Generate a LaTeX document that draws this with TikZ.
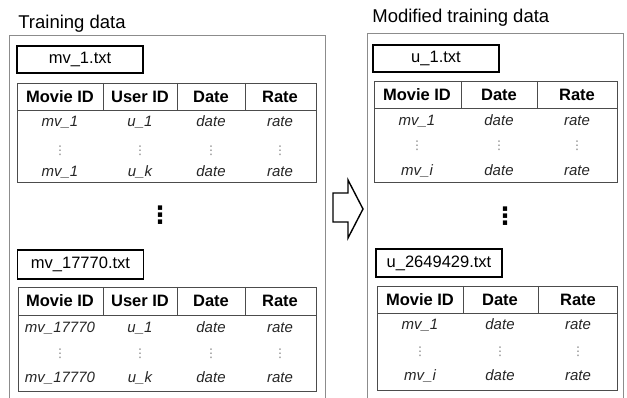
\documentclass[tikz,border=0pt]{standalone}
\usepackage{fontspec}
\setmainfont{Liberation Sans}
\newfontfamily\dotsfont{DejaVu Sans}
\tikzset{every picture/.style={line width=0.75pt}}

\begin{document}
\begin{tikzpicture}[x=1pt,y=1pt,yscale=-1,xscale=1,
	outerline/.style={draw=black!45, line width=0.9pt},
	tableline/.style={draw=black!70, line width=0.8pt},
	filebox/.style={draw, line width=1.3pt, minimum width=126pt, inner sep=0pt, font=\fontsize{16.5}{16.5}\selectfont},
	titletxt/.style={anchor=base west, inner sep=0pt, font=\fontsize{18.5}{18.5}\selectfont},
	headtxt/.style={inner sep=0pt, text height=12pt, text depth=0pt, font=\fontsize{16.5}{16.5}\selectfont\bfseries},
	celltxt/.style={inner sep=0pt, text height=8pt, text depth=0pt, text=black!85, font=\fontsize{15}{15}\selectfont\itshape},
	celldots/.style={inner sep=0pt, text=black!50, font=\dotsfont\fontsize{12}{12}\selectfont},
	bigdots/.style={inner sep=0pt, font=\dotsfont\fontsize{24}{24}\selectfont\bfseries}]
	\useasboundingbox (0,0) rectangle (627,398);

	%Shape: Outer frames
	\draw [outerline] (9,398) -- (9,35) -- (325,35) -- (325,398) ;
	\draw [outerline] (367,398) -- (367,33) -- (623,33) -- (623,398) ;

	% Text Node
	\node [titletxt] (trainTitle) at (18,28.5) {Training data};
	% Text Node
	\node [titletxt] (modTitle) at (372,23) {Modified training data};

	%Shape: Table mv_1 [left top]
	\draw [tableline] (17,83) rectangle (316,182) ;
	\draw [tableline] (17,110) -- (316,110) ;
	\draw [tableline] (103,83) -- (103,110) (177,83) -- (177,110) (245,83) -- (245,110) ;
	%Shape: Table mv_17770 [left bottom]
	\draw [tableline] (18,287) rectangle (316,391) ;
	\draw [tableline] (18,315) -- (316,315) ;
	\draw [tableline] (103,287) -- (103,315) (177,287) -- (177,315) (245,287) -- (245,315) ;
	%Shape: Table u_1 [right top]
	\draw [tableline] (374,81) rectangle (617,182) ;
	\draw [tableline] (374,108) -- (617,108) ;
	\draw [tableline] (461,81) -- (461,108) (537,81) -- (537,108) ;
	%Shape: Table u_2649429 [right bottom]
	\draw [tableline] (377,286) rectangle (617,390) ;
	\draw [tableline] (377,313) -- (617,313) ;
	\draw [tableline] (463,286) -- (463,313) (538,286) -- (538,313) ;

	% File boxes
	\node [filebox, minimum height=27pt] (fileMvOne) at (80,59.5) {mv\_1.txt};
	\node [filebox, minimum height=29pt] (fileMvLast) at (80.5,264.5) {mv\_17770.txt};
	\node [filebox, minimum height=27pt] (fileUOne) at (436,58.5) {u\_1.txt};
	\node [filebox, minimum height=28pt] (fileULast) at (439,263) {u\_2649429.txt};

	% Header texts, left top
	\node [headtxt] (lhMovieA) at (60,96.5) {Movie ID};
	\node [headtxt] (lhUserA) at (140,96.5) {User ID};
	\node [headtxt] (lhDateA) at (211,96.5) {Date};
	\node [headtxt] (lhRateA) at (280,96.5) {Rate};
	% Cell texts, left top
	\node [celltxt] (lcMvA) at (60,123) {mv\_1};
	\node [celltxt] (lcUA) at (140,123) {u\_1};
	\node [celltxt] (lcDateA) at (211,123) {date};
	\node [celltxt] (lcRateA) at (280,123) {rate};
	\node [celldots] (ldMvA) at (60,151) {⋮};
	\node [celldots] (ldUA) at (140,151) {⋮};
	\node [celldots] (ldDateA) at (211,151) {⋮};
	\node [celldots] (ldRateA) at (280,151) {⋮};
	\node [celltxt] (lcMvB) at (60,173) {mv\_1};
	\node [celltxt] (lcUB) at (140,173) {u\_k};
	\node [celltxt] (lcDateB) at (211,173) {date};
	\node [celltxt] (lcRateB) at (280,173) {rate};

	% Header texts, left bottom
	\node [headtxt] (lhMovieB) at (60,301) {Movie ID};
	\node [headtxt] (lhUserB) at (140,301) {User ID};
	\node [headtxt] (lhDateB) at (211,301) {Date};
	\node [headtxt] (lhRateB) at (280,301) {Rate};
	% Cell texts, left bottom
	\node [celltxt] (lcMvC) at (60,328) {mv\_17770};
	\node [celltxt] (lcUC) at (140,328) {u\_1};
	\node [celltxt] (lcDateC) at (211,328) {date};
	\node [celltxt] (lcRateC) at (280,328) {rate};
	\node [celldots] (ldMvC) at (60,354) {⋮};
	\node [celldots] (ldUC) at (140,354) {⋮};
	\node [celldots] (ldDateC) at (211,354) {⋮};
	\node [celldots] (ldRateC) at (280,354) {⋮};
	\node [celltxt] (lcMvD) at (60,378) {mv\_17770};
	\node [celltxt] (lcUD) at (140,378) {u\_k};
	\node [celltxt] (lcDateD) at (211,378) {date};
	\node [celltxt] (lcRateD) at (280,378) {rate};

	% Header texts, right top
	\node [headtxt] (rhMovieA) at (417,94.5) {Movie ID};
	\node [headtxt] (rhDateA) at (499,94.5) {Date};
	\node [headtxt] (rhRateA) at (577,94.5) {Rate};
	% Cell texts, right top
	\node [celltxt] (rcMvA) at (417,122) {mv\_1};
	\node [celltxt] (rcDateA) at (499,122) {date};
	\node [celltxt] (rcRateA) at (577,122) {rate};
	\node [celldots] (rdMvA) at (417,146) {⋮};
	\node [celldots] (rdDateA) at (499,146) {⋮};
	\node [celldots] (rdRateA) at (577,146) {⋮};
	\node [celltxt] (rcMvB) at (417,172) {mv\_i};
	\node [celltxt] (rcDateB) at (499,172) {date};
	\node [celltxt] (rcRateB) at (577,172) {rate};

	% Header texts, right bottom
	\node [headtxt] (rhMovieB) at (420,299.5) {Movie ID};
	\node [headtxt] (rhDateB) at (500,299.5) {Date};
	\node [headtxt] (rhRateB) at (578,299.5) {Rate};
	% Cell texts, right bottom
	\node [celltxt] (rcMvC) at (420,326) {mv\_1};
	\node [celltxt] (rcDateC) at (500,326) {date};
	\node [celltxt] (rcRateC) at (578,326) {rate};
	\node [celldots] (rdMvC) at (420,352) {⋮};
	\node [celldots] (rdDateC) at (500,352) {⋮};
	\node [celldots] (rdRateC) at (578,352) {⋮};
	\node [celltxt] (rcMvD) at (420,377) {mv\_i};
	\node [celltxt] (rcDateD) at (500,377) {date};
	\node [celltxt] (rcRateD) at (578,377) {rate};

	% Big dots between the files
	\node [bigdots] (leftGap) at (160,215) {⋮};
	\node [bigdots] (rightGap) at (505,216) {⋮};

	%Shape: Right Arrow
	\draw [line width=1.4pt, line join=miter] (333,193) -- (348,193) -- (348,180) -- (363,209) -- (348,238) -- (348,222) -- (333,222) -- cycle ;
\end{tikzpicture}
\end{document}
